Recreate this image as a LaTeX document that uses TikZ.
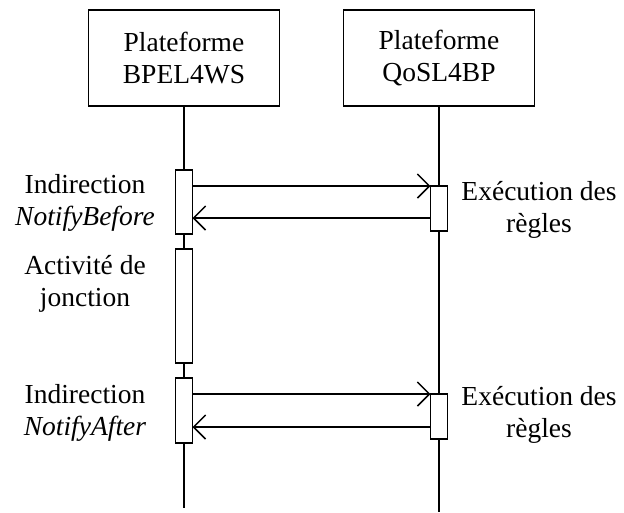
\documentclass[tikz,border=0pt]{standalone}
\usepackage{fontspec}
\setmainfont{Liberation Serif}
\usetikzlibrary{arrows.meta}
\begin{document}
\begin{tikzpicture}[x=1pt,y=-1pt,
  every node/.style={inner sep=0pt,outer sep=0pt},
  lbl/.style={align=center,font=\fontsize{27.5}{32}\selectfont,anchor=base},
  platf/.style={draw,line width=1.6pt,minimum width=191pt,minimum height=96pt,align=center,font=\fontsize{27.5}{32}\selectfont},
  life/.style={line width=1.5pt},
  act/.style={draw,fill=white,line width=1.5pt,minimum width=17pt},
  msg/.style={line width=1.5pt,-{Straight Barb[length=12pt,width=24pt,line width=1.5pt]}}]
\fill[white] (0,0) rectangle (624,512);
\useasboundingbox (0,0) rectangle (624,512);
% platforms
\node[platf] (b1) at (184,58) {Plateforme\\BPEL4WS};
\node[platf] (b2) at (439,58) {Plateforme\\QoSL4BP};
\coordinate (e1) at (184,508);
\coordinate (e2) at (439,512);
\draw[life] (b1.south) -- (e1);
\draw[life] (b2.south) -- (e2);
% activations
\node[act,minimum height=64pt]  (a1) at (184,202) {};
\node[act,minimum height=114pt] (a2) at (184,306) {};
\node[act,minimum height=65pt]  (a3) at (184,410.5) {};
\node[act,minimum height=45pt]  (c1) at (439,208.5) {};
\node[act,minimum height=45pt]  (c2) at (439,416.5) {};
% messages
\draw[msg] (a1.east |- c1.north west) -- (c1.north west);
\draw[msg] ([yshift=13pt]c1.south west) -- ([yshift=13pt]c1.south west -| a1.east);
\draw[msg] (a3.east |- c2.north west) -- (c2.north west);
\draw[msg] ([yshift=12pt]c2.south west) -- ([yshift=12pt]c2.south west -| a3.east);
% labels (anchor base = baseline of the last line)
\node[lbl] (l1) at (85,225) {Indirection\\\textit{NotifyBefore}};
\node[lbl] (l2) at (85,306) {Activité de\\jonction};
\node[lbl] (l3) at (85,435) {Indirection\\\textit{NotifyAfter}};
\node[lbl] (r1) at (539,232) {Exécution des\\règles};
\node[lbl] (r2) at (539,437) {Exécution des\\règles};
\end{tikzpicture}
\end{document}
